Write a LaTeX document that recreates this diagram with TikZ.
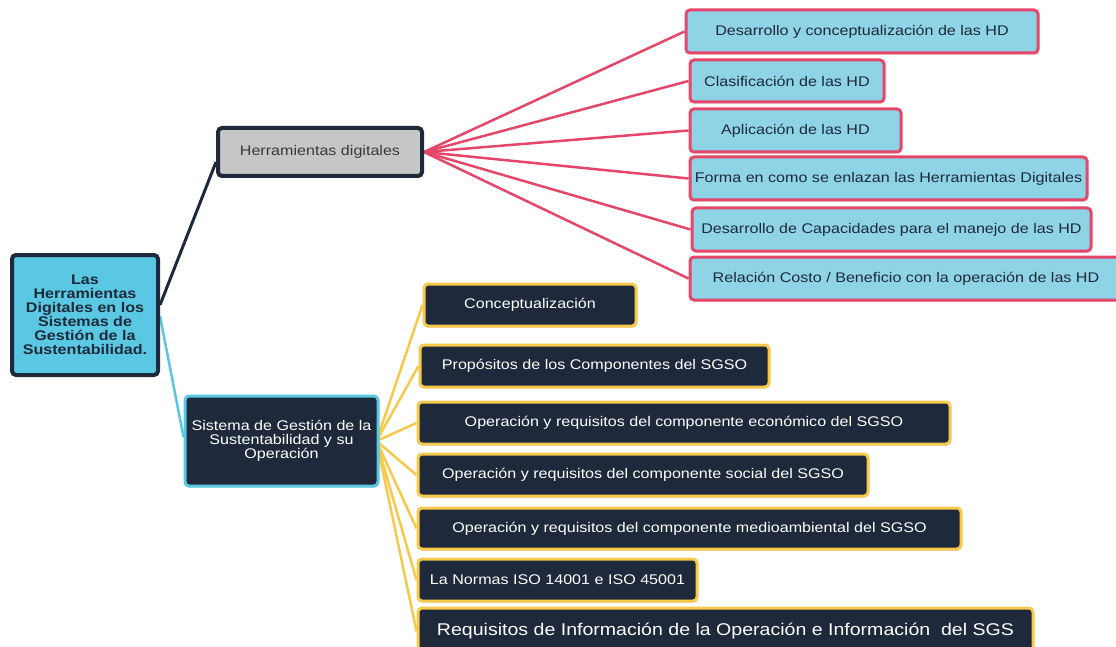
\documentclass[tikz,border=0pt]{standalone}
\usepackage{fontspec}
\setmainfont{Liberation Sans}[FakeStretch=1.15]
\usetikzlibrary{shadows}
\definecolor{navy}{HTML}{1E293B}
\definecolor{cyanroot}{HTML}{5AC8E2}
\definecolor{lblue}{HTML}{8ED3E6}
\definecolor{pinkb}{HTML}{E5476A}
\definecolor{yell}{HTML}{F6C94A}
\definecolor{greyb}{HTML}{C6C6C6}
\definecolor{greyt}{HTML}{3A3A3A}
\pgfdeclarelayer{background}
\pgfsetlayers{background,main}
\begin{document}
\begin{tikzpicture}[x=1pt,y=-1pt,
  box/.style={rounded corners=4pt, inner sep=0pt, align=center, font=\fontsize{14}{14}\selectfont,
    drop shadow={opacity=0.18, shadow xshift=1pt, shadow yshift=-2pt}},
  rootbox/.style={box, fill=cyanroot, draw=navy, line width=4pt, text=navy, font=\fontsize{14}{14}\selectfont\bfseries},
  hdbox/.style={box, fill=greyb, draw=navy, line width=4pt, text=greyt},
  sgbox/.style={box, fill=navy, draw=cyanroot, line width=3pt, text=white},
  pbox/.style={box, fill=lblue, draw=pinkb, line width=3pt, text=navy},
  ybox/.style={box, fill=navy, draw=yell, line width=3pt, text=white},
  pline/.style={draw=pinkb, line width=2.5pt},
  yline/.style={draw=yell, line width=2.5pt},
]
\useasboundingbox (0,0) rectangle (1116,647);
\clip (0,0) rectangle (1116,647);

% nodes
\node[rootbox, minimum width=146, minimum height=120] (root) at (85,315)
  {Las\\Herramientas\\Digitales en los\\Sistemas de\\Gestión de la\\Sustentabilidad.};
\node[hdbox, minimum width=204, minimum height=48] (hd) at (320,152) {Herramientas digitales};
\node[sgbox, minimum width=193, minimum height=90] (sg) at (281.5,441)
  {Sistema de Gestión de la\\Sustentabilidad y su\\Operación};

\node[pbox, minimum width=352, minimum height=43] (p1) at (862,31.5) {Desarrollo y conceptualización de las HD};
\node[pbox, minimum width=194, minimum height=42] (p2) at (787,81) {Clasificación de las HD};
\node[pbox, minimum width=211, minimum height=43] (p3) at (795.5,130.5) {Aplicación de las HD};
\node[pbox, minimum width=397, minimum height=43] (p4) at (888.5,178.5) {Forma en como se enlazan las Herramientas Digitales};
\node[pbox, minimum width=399, minimum height=43] (p5) at (891.5,229.5) {Desarrollo de Capacidades para el manejo de las HD};
\node[pbox, minimum width=432, minimum height=43] (p6) at (906,278.5) {Relación Costo / Beneficio con la operación de las HD};

\node[ybox, minimum width=212, minimum height=42] (y1) at (530,305) {Conceptualización};
\node[ybox, minimum width=349, minimum height=42] (y2) at (594.5,366) {Propósitos de los Componentes del SGSO};
\node[ybox, minimum width=532, minimum height=42] (y3) at (684,423) {Operación y requisitos del componente económico del SGSO};
\node[ybox, minimum width=450, minimum height=42] (y4) at (643,475) {Operación y requisitos del componente social del SGSO};
\node[ybox, minimum width=543, minimum height=41] (y5) at (689.5,528.5) {Operación y requisitos del componente medioambiental del SGSO};
\node[ybox, minimum width=279, minimum height=42] (y6) at (557.5,580) {La Normas ISO 14001 e ISO 45001};
\node[ybox, minimum width=615, minimum height=46, font=\fontsize{17}{19}\selectfont] (y7) at (725.5,631) {Requisitos de Información de la Operación e Información\ \ del SGS};

% connectors behind
\begin{pgfonlayer}{background}
  \draw[navy, line width=3pt] ([yshift=10pt]root.east) -- ([yshift=-10pt]hd.west);
  \draw[cyanroot, line width=2.5pt] ([yshift=-1pt]root.east) -- ([yshift=4pt]sg.west);
  \foreach \n in {p1,p2,p3,p4,p5,p6} {\draw[pline] (hd.east) -- (\n.west);}
  \foreach \n in {y1,y2,y3,y4,y5,y6,y7} {\draw[yline] ([xshift=-3pt]sg.east) -- (\n.west);}
\end{pgfonlayer}
\end{tikzpicture}
\end{document}
